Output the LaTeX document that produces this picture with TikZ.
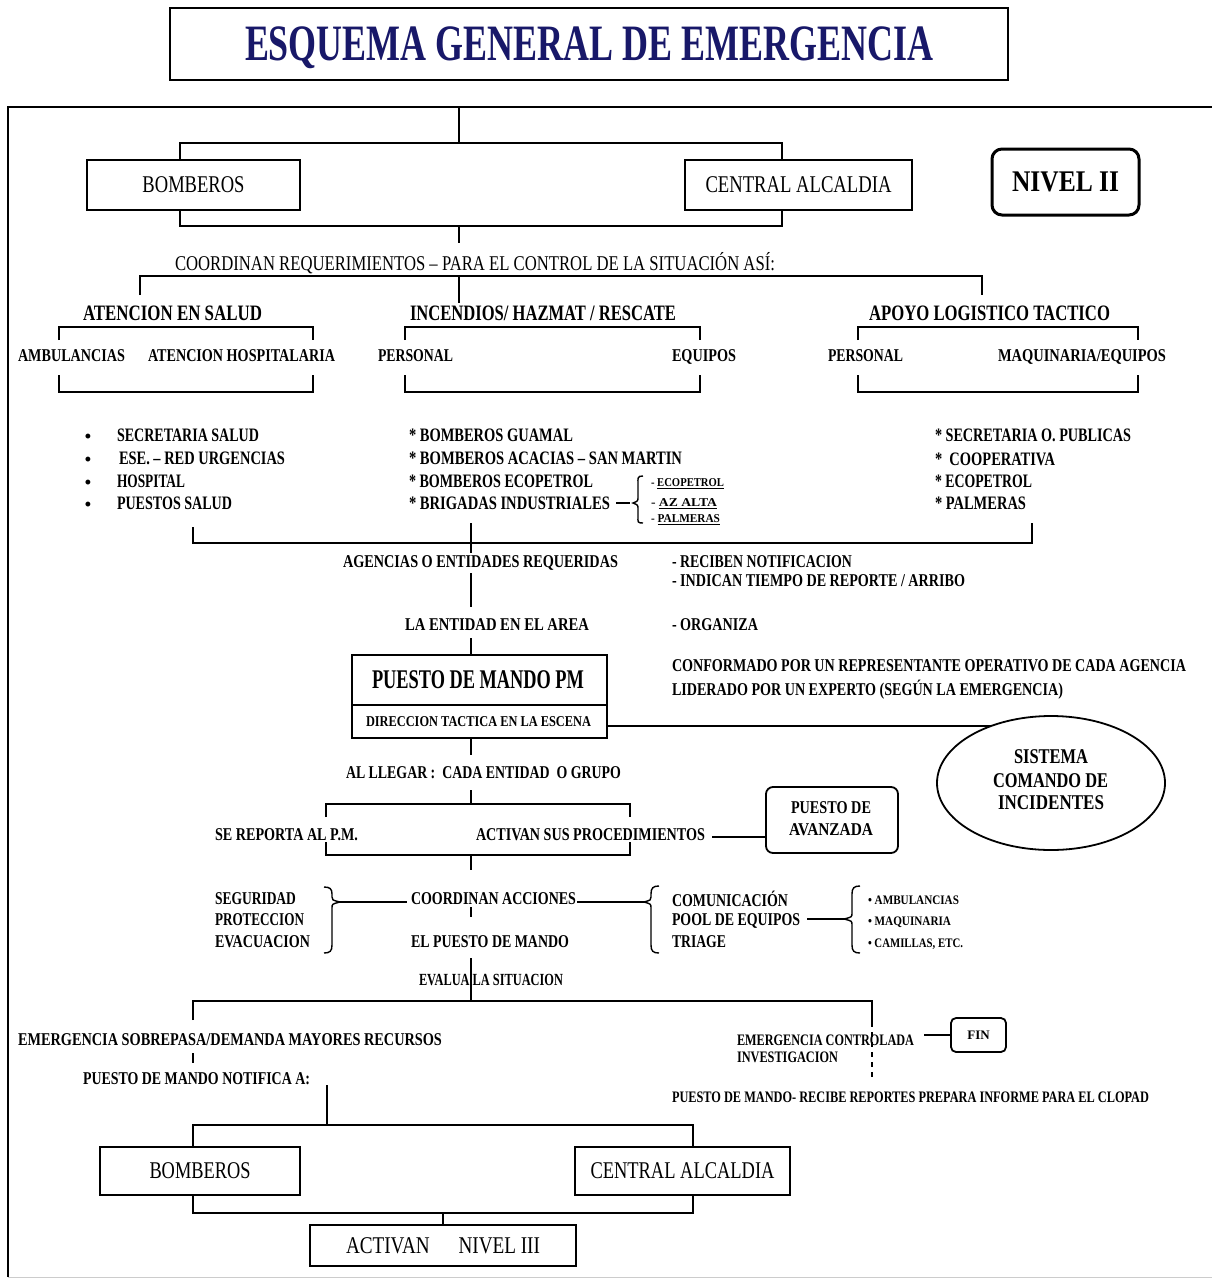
\documentclass[tikz,border=0pt]{standalone}
\usepackage{fontspec}
\setmainfont{Liberation Serif}
\usetikzlibrary{shapes.geometric}
\definecolor{navy}{RGB}{24,24,105}
\newcommand\tx[6]{\node[#1, anchor=west] (#2) at (#3,#5) {\resizebox{#4pt}{\height}{#6}};}
\begin{document}
\begin{tikzpicture}[x=1pt,y=-1pt,
 ln/.style={line width=1.8pt},
 thin/.style={line width=1.4pt},
 T/.style={inner sep=0pt,outer sep=0pt,text depth=0pt,font=\fontsize{#1}{#1}\selectfont},
 B/.style={inner sep=0pt,outer sep=0pt,text depth=0pt,font=\fontsize{#1}{#1}\selectfont\bfseries},
 boxe/.style={draw,line width=1.8pt}]
\fill[white] (0,0) rectangle (1212,1278);
\useasboundingbox (0,0) rectangle (1212,1278);

% title
\node[boxe, B=51, text=navy, minimum width=838pt, minimum height=72pt] (title) at (589,44) {\resizebox{688pt}{\height}{ESQUEMA GENERAL DE EMERGENCIA}};

% frame
\coordinate (fr0) at (1212,107); \coordinate (fr1) at (8,107); \coordinate (fr2) at (8,1277); \coordinate (fr3) at (1212,1277);
\draw[ln] (fr0) -- (fr1) -- (fr2);
\draw[line width=1pt, black!20] (fr2) -- (fr3);

% top boxes
\node[boxe, T=24, minimum width=213pt, minimum height=50pt] (b1) at (193.5,185) {\resizebox{102pt}{\height}{BOMBEROS}};
\node[boxe, T=24, minimum width=227pt, minimum height=50pt] (b2) at (798.5,185) {\resizebox{186pt}{\height}{CENTRAL ALCALDIA}};
\node[draw, line width=3pt, rounded corners=10pt, B=30, minimum width=147pt, minimum height=66pt] (n2) at (1065.5,182) {\resizebox{107pt}{\height}{NIVEL II}};

\coordinate (s0) at (459,107); \coordinate (j0) at (459,143);
\coordinate (j1) at (459,226); \coordinate (j1e) at (459,243);
\draw[ln] (s0) -- (j0);
\draw[ln] ([xshift=-13.5pt]b1.north) |- (j0) -| ([xshift=-16.5pt]b2.north);
\draw[ln] ([xshift=-13.5pt]b1.south) |- (j1) -| ([xshift=-16.5pt]b2.south);
\draw[ln] (j1) -- (j1e);

\tx{T=21}{coord}{175}{600}{261}{COORDINAN REQUERIMIENTOS – PARA EL CONTROL DE LA SITUACIÓN ASÍ:}

\coordinate (h0) at (140,295); \coordinate (h1) at (982,276); \coordinate (h2) at (982,295);
\coordinate (hm) at (459,276); \coordinate (hme) at (459,303);
\draw[ln] (h0) |- (h1) -- (h2);
\draw[ln] (hm) -- (hme);

\tx{B=22}{h1t}{83}{179}{313}{ATENCION EN SALUD}
\tx{B=22}{h2t}{410}{266}{313}{INCENDIOS/ HAZMAT / RESCATE}
\tx{B=22}{h3t}{869}{241}{313}{APOYO LOGISTICO TACTICO}

% sub brackets
\foreach \a/\b in {59/313, 405/700, 858/1138}{
  \draw[ln] (\a,340) |- (\b,327) -- (\b,340);
  \draw[ln] (\a,375) |- (\b,392) -- (\b,375);
}
\tx{B=18}{s1}{18}{107}{356}{AMBULANCIAS}
\tx{B=18}{s2}{148}{187}{356}{ATENCION HOSPITALARIA}
\tx{B=18}{s3}{378}{75}{356}{PERSONAL}
\tx{B=18}{s4}{672}{64}{356}{EQUIPOS}
\tx{B=18}{s5}{828}{75}{356}{PERSONAL}
\tx{B=18}{s6}{998}{168}{356}{MAQUINARIA/EQUIPOS}

% lists
\foreach \yy/\nm in {438/ba,461/bb,484/bc,506/bd}{\node[B=18] (\nm) at (88,\yy) {•};}
\tx{B=19}{l1}{117}{142}{435}{SECRETARIA SALUD}
\tx{B=19}{l2}{119}{166}{458}{ESE. – RED URGENCIAS}
\tx{B=19}{l3}{117}{68}{481}{HOSPITAL}
\tx{B=19}{l4}{117}{115}{503}{PUESTOS SALUD}
\tx{B=19}{m1}{409}{164}{435}{* BOMBEROS GUAMAL}
\tx{B=19}{m2}{409}{273}{458}{* BOMBEROS ACACIAS – SAN MARTIN}
\tx{B=19}{m3}{409}{184}{481}{* BOMBEROS ECOPETROL}
\tx{B=19}{m4}{409}{201}{503}{* BRIGADAS INDUSTRIALES}
\coordinate (d1) at (616,503); \coordinate (d2) at (630,503);
\draw[thin] (d1) -- (d2);
\draw[thin] (643,476) .. controls (637,476) and (638,478) .. (638,484) -- (638,497) .. controls (638,501) .. (633,503) .. controls (638,505) .. (638,509) -- (638,516) .. controls (638,522) and (637,523) .. (643,523);
\tx{B=12}{e1}{651}{73}{483}{- \underline{ECOPETROL}}
\tx{B=12}{e2}{651}{66}{503}{- \underline{AZ ALTA}}
\tx{B=12}{e3}{651}{69}{519}{- \underline{PALMERAS}}
\tx{B=19}{r1}{935}{196}{435}{* SECRETARIA O. PUBLICAS}
\tx{B=19}{r2}{935}{120}{459}{*\ \ COOPERATIVA}
\tx{B=19}{r3}{935}{97}{481}{* ECOPETROL}
\tx{B=19}{r4}{935}{91}{503}{* PALMERAS}

\coordinate (k0) at (193,527); \coordinate (k1) at (1032,543); \coordinate (k2) at (1032,523);
\coordinate (km) at (471,523); \coordinate (kme) at (471,553);
\draw[ln] (k0) |- (k1) -- (k2);
\draw[ln] (km) -- (kme);

\tx{B=18}{ag}{343}{275}{562}{AGENCIAS O ENTIDADES REQUERIDAS}
\tx{B=18}{rn}{672}{180}{562}{- RECIBEN NOTIFICACION}
\tx{B=18}{it}{672}{293}{581}{- INDICAN TIEMPO DE REPORTE / ARRIBO}
\coordinate (v1) at (471,573); \coordinate (v2) at (471,607);
\draw[ln] (v1) -- (v2);
\tx{B=18}{ent}{405}{184}{625}{LA ENTIDAD EN EL AREA}
\tx{B=18}{org}{672}{86}{625}{- ORGANIZA}
\tx{B=18}{cf1}{672}{514}{666}{CONFORMADO POR UN REPRESENTANTE OPERATIVO DE CADA AGENCIA}
\tx{B=18}{cf2}{672}{391}{688}{LIDERADO POR UN EXPERTO (SEGÚN LA EMERGENCIA)}

% PM box
\node[boxe, minimum width=255pt, minimum height=83pt, inner sep=0pt] (pm) at (479.5,696.5) {};
\coordinate (v3) at (471,638);
\draw[ln] (v3) -- (v3 |- pm.north);
\coordinate (pmd) at (352,705);
\draw[ln] (pmd) -- (pmd -| pm.east);
\tx{B=27}{pmt}{372}{212}{680}{PUESTO DE MANDO PM}
\tx{B=15}{dir}{366}{225}{722}{DIRECCION TACTICA EN LA ESCENA}

% SCI ellipse
\node[draw, ellipse, ln, minimum width=228pt, minimum height=134pt, inner sep=0pt] (sci) at (1051,783) {};
\coordinate (pml) at (607,726); \coordinate (scie) at (991,726);
\draw[ln] (pml) -- (scie);
\tx{B=21}{sc1}{1014}{74}{757}{SISTEMA}
\tx{B=21}{sc2}{993}{115}{781}{COMANDO DE}
\tx{B=21}{sc3}{998}{106}{803}{INCIDENTES}

\coordinate (v4) at (471,755);
\draw[ln] (v4 |- pm.south) -- (v4);
\tx{B=18}{ll}{346}{275}{773}{AL LLEGAR :\ \ CADA ENTIDAD\ \ O GRUPO}
\coordinate (v5) at (471,790); \coordinate (v6) at (471,804);
\draw[ln] (v5) -- (v6);
\coordinate (q0) at (326,817); \coordinate (q1) at (630,804); \coordinate (q2) at (630,817);
\draw[ln] (q0) |- (q1) -- (q2);
\coordinate (q3) at (326,842); \coordinate (q4) at (630,855); \coordinate (q5) at (630,842);
\draw[ln] (q3) |- (q4) -- (q5);
\tx{B=18}{sr}{215}{143}{835}{SE REPORTA AL P.M.}
\tx{B=18}{ac}{476}{229}{835}{ACTIVAN SUS PROCEDIMIENTOS}
\node[boxe, rounded corners=7pt, minimum width=132pt, minimum height=66pt, inner sep=0pt] (avz) at (832,820) {};
\tx{B=18}{av1}{791}{80}{808}{PUESTO DE}
\tx{B=18}{av2}{789}{84}{830}{AVANZADA}
\coordinate (ae) at (712,837);
\draw[ln] (ae) -- (ae -| avz.west);

\coordinate (v7) at (471,855); \coordinate (v8) at (471,870);
\draw[ln] (v7) -- (v8);
\tx{B=18}{ca}{411}{165}{899}{COORDINAN ACCIONES}
\coordinate (v9) at (471,907); \coordinate (v10) at (471,917);
\draw[ln] (v9) -- (v10);
\tx{B=18}{ep}{411}{158}{942}{EL PUESTO DE MANDO}
\coordinate (v11) at (471,958); \coordinate (v12) at (471,1001);
\tx{B=17}{ev}{419}{144}{980}{EVALUA LA SITUACION}
\draw[ln] (v11) -- (v12);

\tx{B=18}{sg1}{215}{81}{899}{SEGURIDAD}
\tx{B=18}{sg2}{215}{89}{920}{PROTECCION}
\tx{B=18}{sg3}{215}{95}{942}{EVACUACION}
\draw[thin] (324,887) .. controls (330,887) and (332,889) .. (332,894) -- (332,897) .. controls (332,900) .. (340,902) .. controls (332,904) .. (332,908) -- (332,945) .. controls (332,951) and (330,953) .. (324,953);
\coordinate (c1) at (340,902); \coordinate (c2) at (407,902);
\draw[ln] (c1) -- (c2);
\coordinate (c3) at (577,902); \coordinate (c4) at (644,902);
\draw[ln] (c3) -- (c4);
\draw[thin] (659,886) .. controls (653,886) and (651,888) .. (651,894) -- (651,897) .. controls (651,900) .. (644,902) .. controls (651,904) .. (651,908) -- (651,945) .. controls (651,951) and (653,953) .. (659,953);
\tx{B=18}{cm1}{672}{116}{899}{COMUNICACIÓN}
\tx{B=18}{cm2}{672}{128}{920}{POOL DE EQUIPOS}
\tx{B=18}{cm3}{672}{54}{942}{TRIAGE}
\coordinate (c5) at (807,919); \coordinate (c6) at (844,919);
\draw[ln] (c5) -- (c6);
\draw[thin] (860,886) .. controls (854,886) and (852,888) .. (852,894) -- (852,913) .. controls (852,917) .. (844,919) .. controls (852,921) .. (852,925) -- (852,945) .. controls (852,951) and (854,953) .. (860,953);
\tx{B=13}{it1}{868}{91}{900}{• AMBULANCIAS}
\tx{B=13}{it2}{868}{83}{921}{• MAQUINARIA}
\tx{B=13}{it3}{868}{95}{943}{• CAMILLAS, ETC.}

% bottom
\coordinate (w0) at (193,1020); \coordinate (w1) at (872,1001); \coordinate (w2) at (872,1022); \coordinate (w3) at (872,1078);
\draw[ln] (w0) |- (w1) -- (w2);
\draw[ln, dashed, dash pattern=on 5pt off 5pt] (w2) -- (w3);
\tx{B=18}{es}{18}{424}{1040}{EMERGENCIA SOBREPASA/DEMANDA MAYORES RECURSOS}
\coordinate (w4) at (193,1053); \coordinate (w5) at (193,1063);
\draw[ln] (w4) -- (w5);
\tx{B=18}{pn}{83}{227}{1079}{PUESTO DE MANDO NOTIFICA A:}
\coordinate (w6) at (327,1085); \coordinate (w7) at (327,1125);
\draw[ln] (w6) -- (w7);

\node[boxe, T=24, minimum width=200pt, minimum height=48pt] (b3) at (200,1171) {\resizebox{101pt}{\height}{BOMBEROS}};
\node[boxe, T=24, minimum width=215pt, minimum height=48pt] (b4) at (682.5,1171) {\resizebox{184pt}{\height}{CENTRAL ALCALDIA}};
\coordinate (w8) at (193,1125); \coordinate (w9) at (693,1125);
\draw[ln] (w8 |- b3.north) |- (w9) -- (w9 |- b4.north);
\coordinate (w10) at (193,1213); \coordinate (w11) at (693,1213); \coordinate (w12) at (443,1213);
\draw[ln] (w10 |- b3.south) |- (w11) -- (w11 |- b4.south);
\node[boxe, T=24, minimum width=266pt, minimum height=41pt] (niv3) at (443,1245.5) {\resizebox{194pt}{\height}{ACTIVAN\quad\ \ NIVEL III}};
\draw[ln] (w12) -- (niv3.north);

\tx{B=16}{ec}{737}{177}{1040}{EMERGENCIA CONTROLADA}
\tx{B=16}{inv}{737}{101}{1057}{INVESTIGACION}
\node[boxe, rounded corners=5pt, B=13, minimum width=55pt, minimum height=34pt] (fin) at (978.5,1035) {FIN};
\coordinate (f0) at (924,1035);
\draw[ln] (f0) -- (fin.west);
\tx{B=16}{pr}{672}{477}{1097}{PUESTO DE MANDO- RECIBE REPORTES PREPARA INFORME PARA EL CLOPAD}
\end{tikzpicture}
\end{document}
